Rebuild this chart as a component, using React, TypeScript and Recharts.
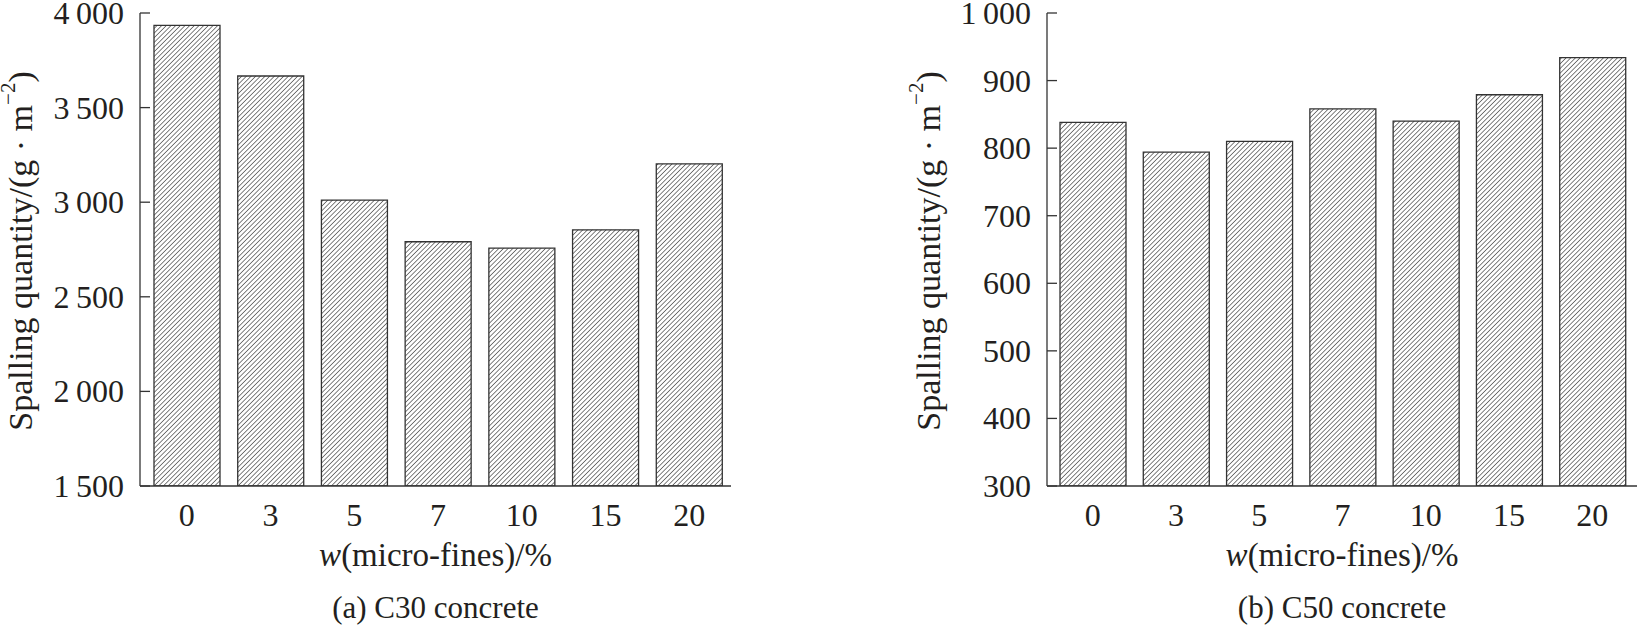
import React from "react"
import { Bar, BarChart, XAxis, YAxis } from "recharts"

const categories = ["0", "3", "5", "7", "10", "15", "20"]
const c30Values = [3935, 3667, 3011, 2791, 2757, 2854, 3203]
const c50Values = [838, 794, 810, 858, 840, 879, 934]
const c30Ticks = [1500, 2000, 2500, 3000, 3500, 4000]
const c50Ticks = [300, 400, 500, 600, 700, 800, 900, 1000]

const FONT = "'Liberation Serif', 'Times New Roman', serif"
const INK = "#231f20"
const LINE = "#333333"

const fmt = (v: number) => {
  const s = String(v)
  return s.length > 3 ? s.slice(0, s.length - 3) + "\u2009" + s.slice(-3) : s
}

function YTick(props: any) {
  const { x, y, payload } = props
  return (
    <g>
      <line x1={x} x2={x + 10} y1={y} y2={y} stroke={LINE} strokeWidth={1.3} />
      <text x={x - 16} y={y} textAnchor="end" dominantBaseline="central" fontSize={32} fontFamily={FONT} fill={INK}>
        {fmt(payload.value)}
      </text>
    </g>
  )
}

function yLabel(offset: number) {
  return (props: any) => {
    const vb = props.viewBox
    const cx = vb.x + offset
    const cy = 251
    return (
      <text
        x={cx}
        y={cy}
        transform={`rotate(-90 ${cx} ${cy})`}
        textAnchor="middle"
        dominantBaseline="central"
        fontSize={34}
        fontFamily={FONT}
        fill={INK}
      >
        Spalling quantity/(g · m
        <tspan dy={-12} fontSize={21}>−2</tspan>
        <tspan dy={12}>)</tspan>
      </text>
    )
  }
}

function xLabel(caption: string) {
  return (props: any) => {
    const vb = props.viewBox
    const cx = vb.x + vb.width / 2
    return (
      <g fontFamily={FONT} fill={INK}>
        <text x={cx} y={566} textAnchor="middle" fontSize={33}>
          <tspan fontStyle="italic">w</tspan>(micro-fines)/%
        </text>
        <text x={cx} y={618} textAnchor="middle" fontSize={31}>
          {caption}
        </text>
      </g>
    )
  }
}

function Panel(props: {
  values: number[]
  ticks: number[]
  id: string
  caption: string
  width: number
  axisWidth: number
  labelOffset: number
  padding: { left: number; right: number }
}) {
  const { values, ticks, id, caption, width, axisWidth, labelOffset, padding } = props
  const rows = categories.map((c, i) => ({ name: c, value: values[i] }))
  const lo = ticks[0]
  const hi = ticks[ticks.length - 1]
  return (
    <BarChart width={width} height={629} data={rows} margin={{ top: 13, right: 1, bottom: 0, left: 0 }} barSize={66}>
      <defs>
        <pattern id={id} width={3.3} height={3.3} patternUnits="userSpaceOnUse" patternTransform="rotate(45)">
          <rect width={3.3} height={3.3} fill="#fff" />
          <line x1={0} y1={0} x2={0} y2={3.3} stroke="#222" strokeWidth={1.15} />
        </pattern>
      </defs>
      <XAxis
        dataKey="name"
        height={143}
        tickLine={false}
        tickSize={0}
        tickMargin={17}
        padding={padding}
        axisLine={{ stroke: LINE, strokeWidth: 1.3 }}
        tick={{ fontSize: 32, fontFamily: FONT, fill: INK }}
        label={xLabel(caption)}
      />
      <XAxis
        xAxisId="top"
        dataKey="name"
        orientation="top"
        height={0}
        tick={false}
        tickLine={false}
        axisLine={{ stroke: LINE, strokeWidth: 1.3 }}
      />
      <YAxis
        domain={[lo, hi]}
        ticks={ticks}
        allowDataOverflow
        width={axisWidth}
        tickLine={false}
        tickSize={0}
        tickMargin={0}
        interval={0}
        axisLine={{ stroke: LINE, strokeWidth: 1.3 }}
        tick={<YTick />}
        label={yLabel(labelOffset)}
      />
      <YAxis
        yAxisId="right"
        orientation="right"
        width={0}
        tick={false}
        tickLine={false}
        axisLine={{ stroke: LINE, strokeWidth: 1.3 }}
      />
      <Bar dataKey="value" fill={`url(#${id})`} stroke={LINE} strokeWidth={1.3} isAnimationActive={false} />
    </BarChart>
  )
}

export default function App() {
  return (
    <div style={{ position: "absolute", left: 0, top: 0, width: 1638, height: 629, background: "#fff" }}>
      <div style={{ position: "absolute", left: 0, top: 0 }}>
        <Panel
          values={c30Values}
          ticks={c30Ticks}
          id="hatchA"
          caption="(a) C30 concrete"
          width={732}
          axisWidth={140}
          labelOffset={20}
          padding={{ left: 5, right: 0 }}
        />
      </div>
      <div style={{ position: "absolute", left: 900, top: 0 }}>
        <Panel
          values={c50Values}
          ticks={c50Ticks}
          id="hatchB"
          caption="(b) C50 concrete"
          width={738}
          axisWidth={147}
          labelOffset={28}
          padding={{ left: 4, right: 3 }}
        />
      </div>
    </div>
  )
}
